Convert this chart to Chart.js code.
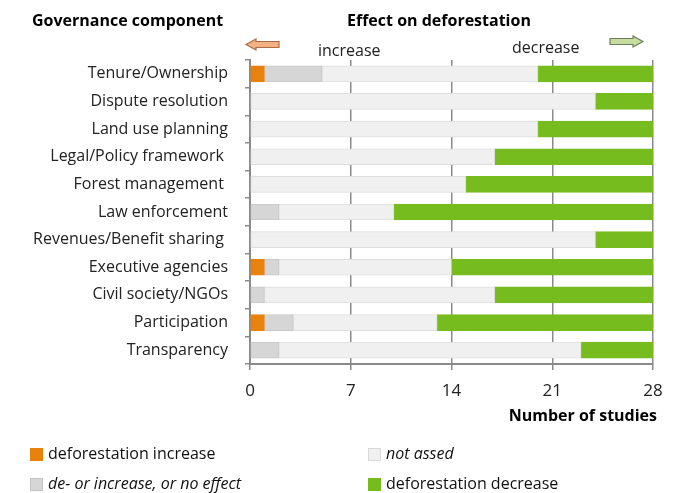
<!DOCTYPE html>
<html>
<head>
<meta charset="utf-8">
<script src="https://cdn.jsdelivr.net/npm/chart.js@4"></script>
<style>
  html, body { margin: 0; padding: 0; background: #fff; }
  #wrap { width: 679px; height: 493px; }
</style>
</head>
<body>
<div id="wrap"><canvas id="govChart" width="679" height="493"></canvas></div>
<script>
// governance components, top to bottom
const components = [
    'Tenure/Ownership',
    'Dispute resolution',
    'Land use planning',
    'Legal/Policy framework ',
    'Forest management ',
    'Law enforcement',
    'Revenues/Benefit sharing ',
    'Executive agencies',
    'Civil society/NGOs',
    'Participation',
    'Transparency'
];

// number of studies per effect
const deforIncrease = [1, 0, 0, 0, 0, 0, 0, 1, 0, 1, 0];
const mixedEffect   = [4, 0, 0, 0, 0, 2, 0, 1, 1, 2, 2];
const notAssessed   = [15, 24, 20, 17, 15, 8, 24, 12, 16, 10, 21];
const deforDecrease = [8, 4, 8, 11, 13, 18, 4, 14, 11, 15, 5];

const xTicks = [0, 7, 14, 21, 28];

const orange = '#e8820c';
const green = '#77bc1f';

const fontName = '"Open Sans", "DejaVu Sans", sans-serif';

function arrow(ctx, x1, x2, y, dir, fill, stroke) {
    // x1 = tip, x2 = tail
    const head = 10 * dir;
    ctx.save();
    ctx.beginPath();
    ctx.moveTo(x1, y);
    ctx.lineTo(x1 + head, y - 5.5);
    ctx.lineTo(x1 + head, y - 3);
    ctx.lineTo(x2, y - 3);
    ctx.lineTo(x2, y + 3);
    ctx.lineTo(x1 + head, y + 3);
    ctx.lineTo(x1 + head, y + 5.5);
    ctx.closePath();
    ctx.fillStyle = fill;
    ctx.fill();
    ctx.lineWidth = 1.2;
    ctx.strokeStyle = stroke;
    ctx.stroke();
    ctx.restore();
}

const extras = {
    id: 'extras',
    afterDraw(chart) {
        const ctx = chart.ctx;
        ctx.save();
        ctx.fillStyle = '#000';
        ctx.textBaseline = 'middle';
        ctx.font = 'bold 16px ' + fontName;
        ctx.textAlign = 'left';
        ctx.fillText('Governance component', 32, 21);
        ctx.fillText('Effect on deforestation', 347, 21);
        ctx.textAlign = 'right';
        ctx.fillText('Number of studies', 657, 416);

        ctx.font = '16px ' + fontName;
        ctx.fillStyle = '#222';
        ctx.textAlign = 'left';
        ctx.fillText('increase', 318, 51);
        ctx.fillText('decrease', 512, 48);

        arrow(ctx, 246, 279, 44.5, 1, '#f4b183', '#a86c48');
        arrow(ctx, 643, 610, 41.5, -1, '#c6dca0', '#6e7e58');

        // legend
        const items = [
            {x: 30, y: 454, fill: orange, stroke: orange, text: 'deforestation increase', italic: false},
            {x: 368, y: 454, fill: '#f0f0f0', stroke: '#dadada', text: 'not assed', italic: true},
            {x: 30, y: 484, fill: '#d6d6d6', stroke: '#c4c4c4', text: 'de- or increase, or no effect', italic: true},
            {x: 368, y: 484, fill: green, stroke: green, text: 'deforestation decrease', italic: false}
        ];
        items.forEach(it => {
            ctx.fillStyle = it.fill;
            ctx.fillRect(it.x, it.y - 6, 13, 13);
            ctx.strokeStyle = it.stroke;
            ctx.lineWidth = 1;
            ctx.strokeRect(it.x + 0.5, it.y - 5.5, 12, 12);
            ctx.fillStyle = '#111';
            ctx.font = (it.italic ? 'italic ' : '') + '16px ' + fontName;
            ctx.fillText(it.text, it.x + 18, it.y);
        });
        ctx.restore();
    }
};

new Chart(document.getElementById('govChart'), {
    type: 'bar',
    data: {
        labels: components,
        datasets: [
            {label: 'deforestation increase', data: deforIncrease, backgroundColor: orange, borderColor: orange},
            {label: 'de- or increase, or no effect', data: mixedEffect, backgroundColor: '#d6d6d6', borderColor: '#c8c8c8'},
            {label: 'not assed', data: notAssessed, backgroundColor: '#f0f0f0', borderColor: '#dedede'},
            {label: 'deforestation decrease', data: deforDecrease, backgroundColor: green, borderColor: green}
        ]
    },
    options: {
        indexAxis: 'y',
        responsive: false,
        animation: false,
        datasets: {
            bar: {barThickness: 16, borderWidth: 1, borderSkipped: false}
        },
        layout: {
            padding: {top: 60, right: 26, bottom: 0, left: 0}
        },
        scales: {
            x: {
                stacked: true,
                min: 0,
                max: 28,
                afterBuildTicks: scale => {
                    scale.ticks = xTicks.map(v => ({value: v}));
                },
                afterFit: scale => { scale.height = 129; },
                border: {color: '#8a8a8a', width: 2},
                grid: {color: '#8a8a8a', lineWidth: 1.5, tickLength: 6},
                ticks: {
                    color: '#222',
                    padding: 11,
                    font: {family: fontName, size: 17}
                }
            },
            y: {
                stacked: true,
                afterFit: scale => { scale.width = 250; },
                border: {color: '#8a8a8a', width: 2},
                grid: {offset: true, drawOnChartArea: false, color: '#8a8a8a', lineWidth: 1.5, tickLength: 5},
                ticks: {
                    color: '#222',
                    padding: 17,
                    font: {family: fontName, size: 16}
                }
            }
        },
        plugins: {
            legend: {display: false},
            tooltip: {enabled: true}
        }
    },
    plugins: [extras]
});
</script>
</body>
</html>
